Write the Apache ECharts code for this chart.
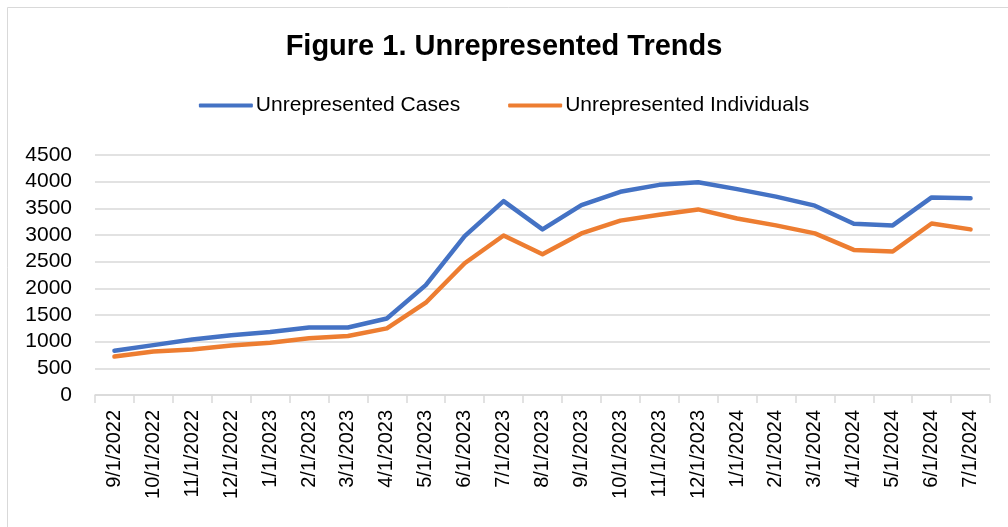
<!DOCTYPE html>
<html>
<head>
<meta charset="utf-8">
<script src="https://cdn.jsdelivr.net/npm/echarts@6/dist/echarts.min.js"></script>
<style>
  html, body { margin: 0; padding: 0; background: #fff; }
  #chart { width: 1008px; height: 527px; }
</style>
</head>
<body>
<div id="chart"></div>
<script>
const months = ['9/1/2022', '10/1/2022', '11/1/2022', '12/1/2022', '1/1/2023', '2/1/2023',
  '3/1/2023', '4/1/2023', '5/1/2023', '6/1/2023', '7/1/2023', '8/1/2023', '9/1/2023',
  '10/1/2023', '11/1/2023', '12/1/2023', '1/1/2024', '2/1/2024', '3/1/2024', '4/1/2024',
  '5/1/2024', '6/1/2024', '7/1/2024'];
const unrepCases = [830, 935, 1040, 1120, 1180, 1265, 1265, 1435, 2060, 2980, 3635, 3105,
  3560, 3810, 3940, 3990, 3860, 3720, 3550, 3210, 3180, 3705, 3690];
const unrepIndividuals = [720, 815, 855, 930, 980, 1065, 1105, 1250, 1730, 2470, 2990, 2640,
  3030, 3270, 3380, 3480, 3310, 3180, 3030, 2720, 2690, 3215, 3105];

const chart = echarts.init(document.getElementById('chart'));

const option = {
  animation: false,
  backgroundColor: '#fff',
  graphic: [{
    type: 'rect',
    shape: { x: 7.5, y: 7.5, width: 1020, height: 540 },
    style: { fill: 'none', stroke: '#d9d9d9', lineWidth: 1 }
  }],
  title: {
    text: 'Figure 1. Unrepresented Trends',
    left: 'center',
    top: 27,
    textStyle: {
      fontFamily: 'Liberation Sans',
      fontWeight: 'bold',
      fontSize: 29,
      color: '#000'
    }
  },
  legend: {
    top: 90,
    left: 'center',
    itemWidth: 54,
    itemHeight: 4,
    itemGap: 48,
    icon: 'roundRect',
    textStyle: { fontFamily: 'Liberation Sans', fontSize: 21, color: '#000', padding: [0, 0, 0, -2] },
    data: ['Unrepresented Cases', 'Unrepresented Individuals']
  },
  grid: { left: 95, right: 18, top: 155, bottom: 132 },
  xAxis: {
    type: 'category',
    data: months,
    boundaryGap: true,
    axisLine: { lineStyle: { color: '#d9d9d9', width: 1.5 } },
    axisTick: { show: true, length: 8, lineStyle: { color: '#d9d9d9', width: 1.5 } },
    axisLabel: {
      rotate: 90,
      interval: 0,
      margin: 15,
      fontFamily: 'Liberation Sans',
      fontSize: 20,
      color: '#000'
    }
  },
  yAxis: {
    type: 'value',
    min: 0,
    max: 4500,
    interval: 500,
    axisLine: { show: false },
    axisTick: { show: false },
    splitLine: { lineStyle: { color: '#d9d9d9', width: 1.5 } },
    axisLabel: {
      margin: 23,
      fontFamily: 'Liberation Sans',
      fontSize: 21,
      color: '#000',
      formatter: function (v) { return String(v); }
    }
  },
  series: [
    {
      name: 'Unrepresented Cases',
      type: 'line',
      data: unrepCases,
      symbol: 'none',
      color: '#4472C4',
      lineStyle: { width: 4.5, cap: 'round', join: 'round' }
    },
    {
      name: 'Unrepresented Individuals',
      type: 'line',
      data: unrepIndividuals,
      symbol: 'none',
      color: '#ED7D31',
      lineStyle: { width: 4.5, cap: 'round', join: 'round' }
    }
  ]
};

chart.setOption(option);
</script>
</body>
</html>
